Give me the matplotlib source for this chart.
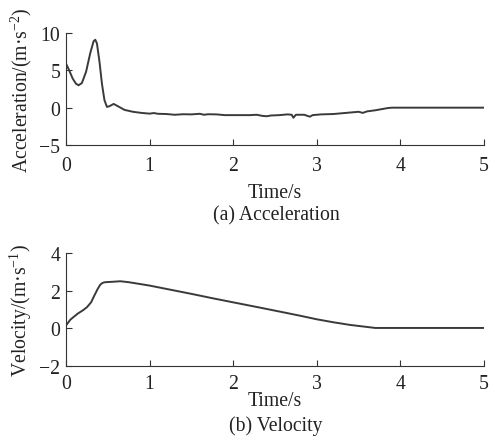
import matplotlib
matplotlib.use('Agg')
import matplotlib.pyplot as plt

# Data
t_acc = [0, 0.03, 0.08, 0.12, 0.15, 0.19, 0.24, 0.29, 0.33, 0.35,
         0.37, 0.40, 0.43, 0.46, 0.49, 0.52, 0.57, 0.62, 0.70, 0.80,
         0.90, 1.00, 1.05, 1.10, 1.20, 1.30, 1.40, 1.50, 1.60, 1.65,
         1.70, 1.80, 1.90, 2.00, 2.10, 2.20, 2.28, 2.35, 2.40, 2.45,
         2.55, 2.65, 2.70, 2.72, 2.75, 2.85, 2.90, 2.92, 2.95, 3.05,
         3.20, 3.35, 3.45, 3.50, 3.55, 3.60, 3.70, 3.80, 3.85, 3.90,
         4.20, 5.00]
acc = [5.9, 5.2, 3.9, 3.2, 3.0, 3.3, 4.8, 7.3, 8.9, 9.1,
       8.6, 6.2, 3.2, 1.0, 0.1, 0.2, 0.5, 0.2, -0.3, -0.55,
       -0.7, -0.8, -0.72, -0.82, -0.85, -0.95, -0.88, -0.9, -0.82, -0.95,
       -0.88, -0.9, -1.0, -1.0, -1.0, -1.0, -0.95, -1.1, -1.15, -1.05,
       -1.0, -0.9, -0.95, -1.35, -0.95, -0.95, -1.15, -1.2, -1.0, -0.9,
       -0.85, -0.7, -0.6, -0.55, -0.7, -0.5, -0.35, -0.15, -0.05, 0.0,
       0.0, 0.0]

t_vel = [0, 0.05, 0.09, 0.14, 0.20, 0.25, 0.30, 0.34, 0.38, 0.41,
         0.44, 0.47, 0.55, 0.65, 0.75, 0.89, 1.00, 1.25, 1.50, 1.75,
         2.00, 2.32, 2.60, 2.80, 3.00, 3.20, 3.40, 3.55, 3.70, 4.00,
         5.00]
vel = [0.15, 0.45, 0.6, 0.78, 0.95, 1.12, 1.38, 1.75, 2.1, 2.32,
       2.42, 2.45, 2.47, 2.5, 2.45, 2.35, 2.27, 2.05, 1.83, 1.6,
       1.38, 1.1, 0.85, 0.67, 0.48, 0.32, 0.18, 0.1, 0.02, 0.02,
       0.02]

plt.rcParams['font.family'] = ['Liberation Serif', 'DejaVu Serif']
plt.rcParams['mathtext.fontset'] = 'custom'
plt.rcParams['mathtext.rm'] = 'Liberation Serif'
plt.rcParams['mathtext.it'] = 'Liberation Serif:italic'
plt.rcParams['font.size'] = 14.2

fig = plt.figure(figsize=(4.9, 4.39), dpi=100)
ax1 = fig.add_axes([66/490, 1-146/439, 418/490, 112/439])
ax2 = fig.add_axes([66/490, 1-367/439, 418/490, 113/439])

line_col = '#3a3a3a'
ax1.plot(t_acc, acc, color=line_col, lw=1.4)
ax2.plot(t_vel, vel, color=line_col, lw=1.4)

ax1.set_ylim(-5, 10)
ax1.set_yticks([-5, 0, 5, 10])
ax2.set_ylim(-2, 4)
ax2.set_yticks([-2, 0, 2, 4])

for ax in (ax1, ax2):
    ax.set_xlim(0, 5)
    ax.set_xticks(range(6))
    ax.spines['top'].set_visible(False)
    ax.spines['right'].set_visible(False)
    ax.spines['left'].set_color('#333333')
    ax.spines['bottom'].set_color('#333333')
    ax.tick_params(direction='in', length=4, color='#333333', labelcolor='#222222')
    ax.tick_params(axis='y', pad=4)

ax1.tick_params(axis='x', pad=8)
ax2.tick_params(axis='x', pad=6)
ax1.set_xlabel('Time/s', labelpad=6, color='#222222')
ax2.set_xlabel('Time/s', labelpad=-2, color='#222222')
ax1.set_ylabel('Acceleration/(m·s$^{-2}$)', labelpad=4, color='#222222')
ax2.set_ylabel('Velocity/(m·s$^{-1}$)', labelpad=4, color='#222222')

fig.text(276/490, 1-216/439, '(a) Acceleration', ha='center', va='center', color='#222222')
fig.text(276/490, 1-426/439, '(b) Velocity', ha='center', va='center', color='#222222')

plt.savefig('out.png', dpi=100)
